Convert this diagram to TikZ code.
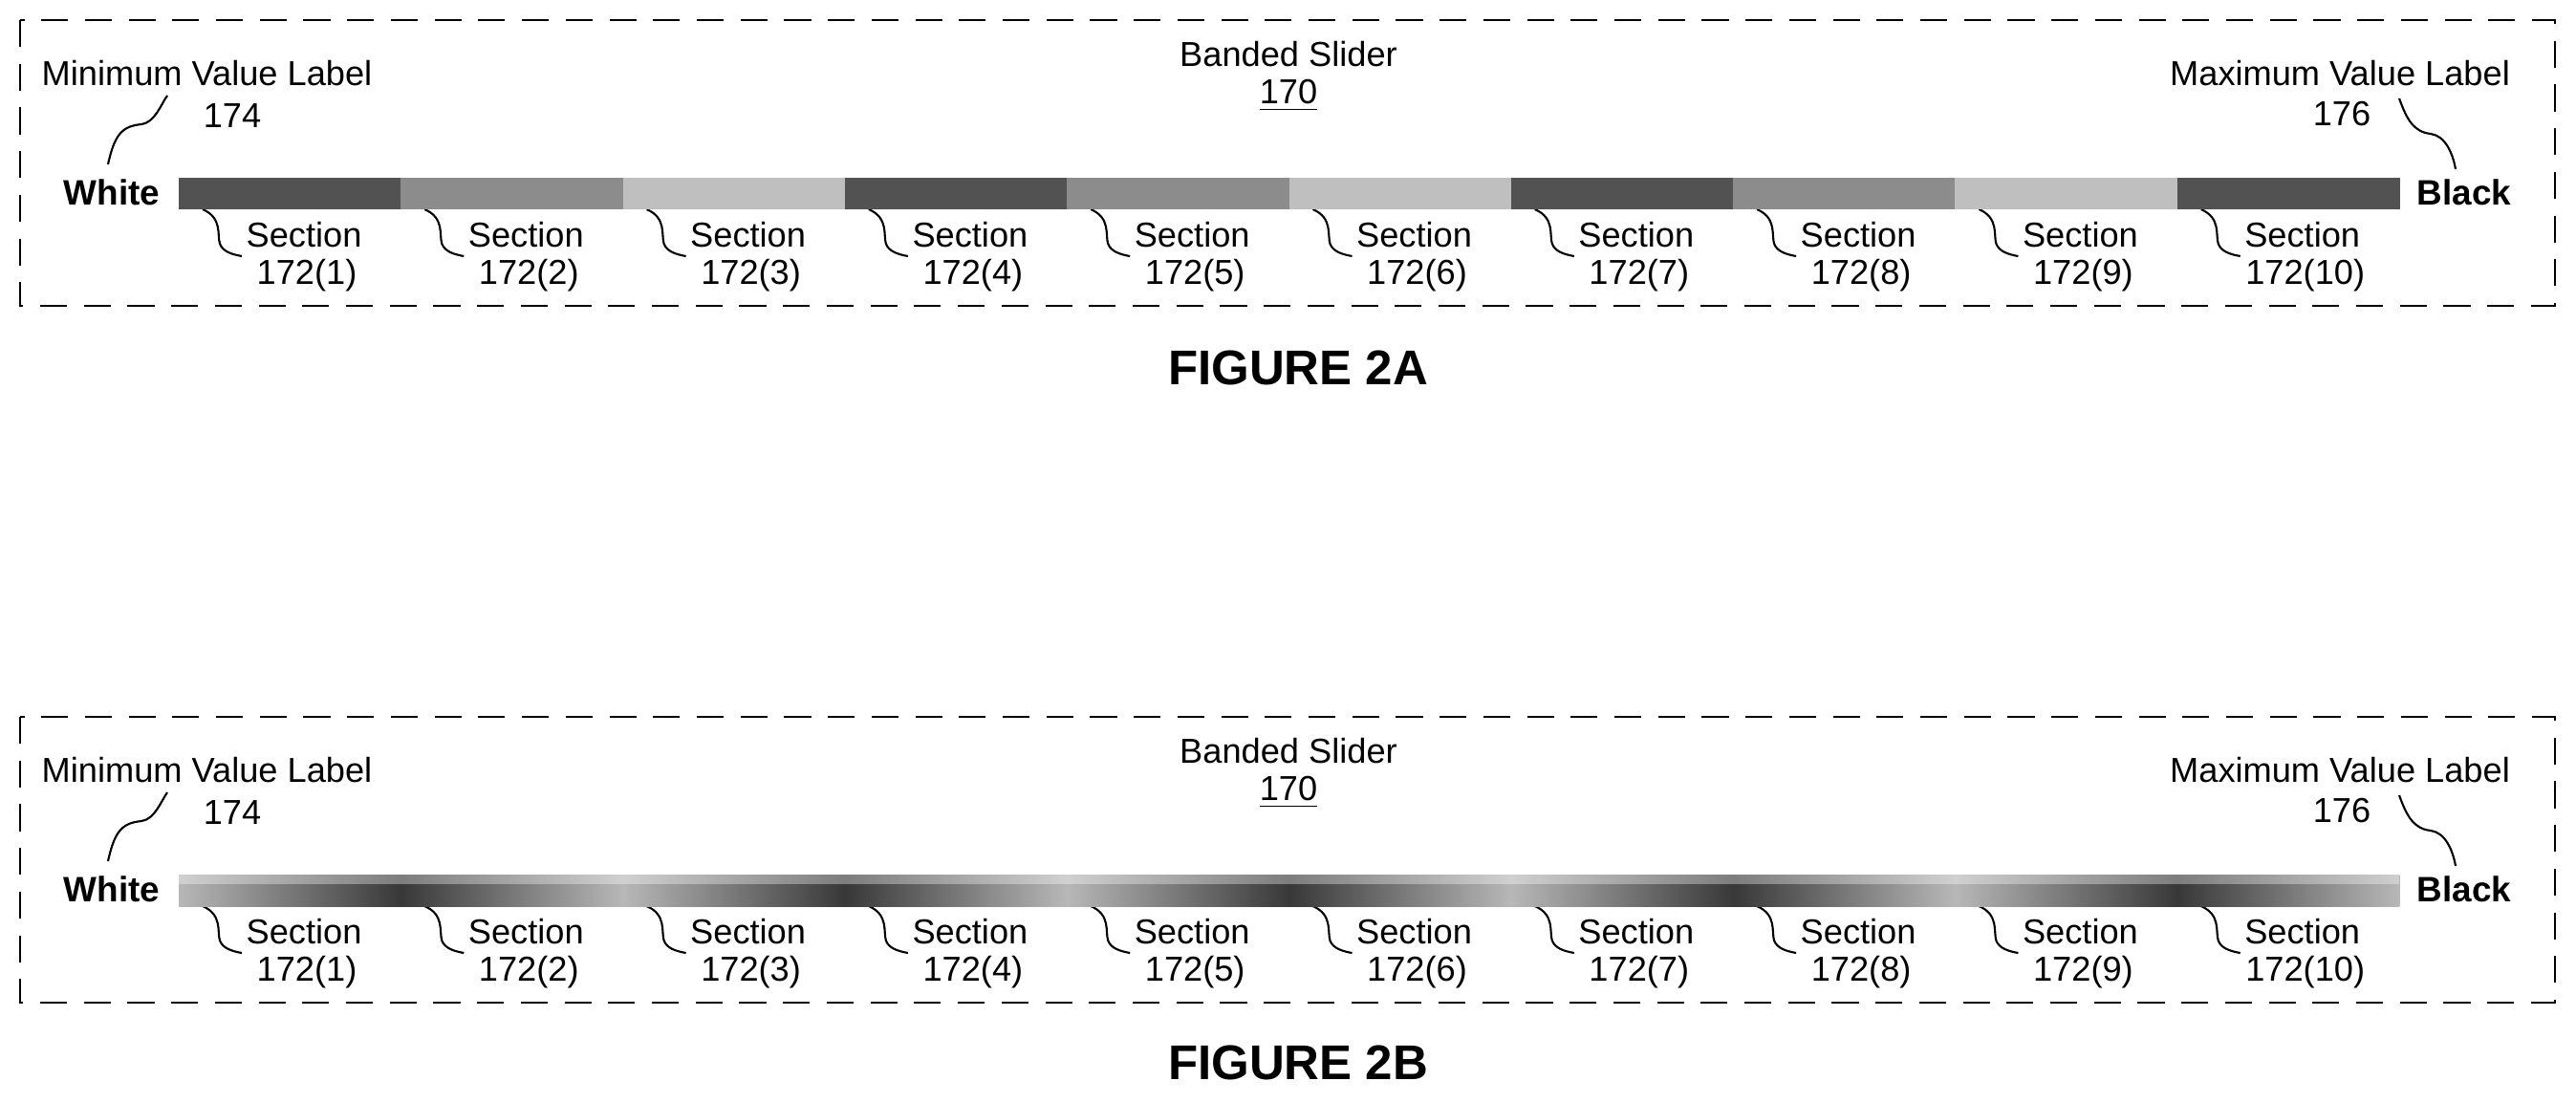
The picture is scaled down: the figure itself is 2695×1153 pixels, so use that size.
\documentclass[tikz,border=0pt]{standalone}
\usepackage{fontspec}
\setmainfont{Liberation Sans}
\usetikzlibrary{calc}
\pgfdeclarehorizontalshading{bandshade}{100bp}{color(0bp)=(black!25); color(25bp)=(black!28); color(50bp)=(black!78); color(75bp)=(black!28); color(100bp)=(black!25)}
\begin{document}
\begin{tikzpicture}[x=0.01cm,y=-0.01cm,
  txt/.style={font=\fontsize{10.3}{12}\selectfont, inner sep=0pt, align=center},
  bold/.style={font=\fontsize{10.5}{12}\selectfont\bfseries, inner sep=0pt},
  fig/.style={font=\fontsize{14.5}{16}\selectfont\bfseries, inner sep=0pt},
  frame/.style={draw, dashed, dash pattern=on 8pt off 5pt, line width=0.6pt},
  leader/.style={draw, line width=0.6pt}]
\useasboundingbox (0,0) rectangle (2695,1153);
\foreach \p/\dy in {A/0,B/729}{
  \begin{scope}[yshift=-\dy*0.01cm]
  \draw[frame] (21,21) rectangle (2673,320);
  \node[txt] (bs\p) at (1348,57) {Banded Slider};
  \node[txt] (n170\p) at (1348,100) {\underline{170}};
  \node[txt, anchor=west] (minl\p) at (43,77) {Minimum Value Label};
  \node[txt] (n174\p) at (243,121) {174};
  \node[txt] (maxl\p) at (2448,77) {Maximum Value Label};
  \node[txt] (n176\p) at (2450,119) {176};
  \node[bold] (white\p) at (117,201) {White};
  \node[bold] (black\p) at (2578,201) {Black};
  \coordinate (l1a\p) at (113,172);
  \coordinate (l1b\p) at (175,100);
  \draw[leader] (l1a\p) .. controls (120,140) and (128,132) .. (148,130) .. controls (162,128) and (168,110) .. (l1b\p);
  \coordinate (r1a\p) at (2510,103);
  \coordinate (r1b\p) at (2569,177);
  \draw[leader] (r1a\p) .. controls (2518,125) and (2525,138) .. (2543,140) .. controls (2558,142) and (2566,160) .. (r1b\p);
  \foreach \i in {1,...,10}{
    \pgfmathsetmacro{\s}{187+(\i-1)*232.3}
    \node[txt] (sec\p\i) at (\s+131,246) {Section};
    \node[txt] (num\p\i) at (\s+134,288) {172(\i)};
    \coordinate (la\p\i) at (\s+25,219);
    \coordinate (lb\p\i) at (\s+66,268);
    \draw[leader] (la\p\i) .. controls (\s+46,228) and (\s+40,246) .. (\s+43,255) .. controls (\s+46,263) and (\s+55,266) .. (lb\p\i);
  }
  \end{scope}
}
% Figure 2A bar
\foreach \i in {1,...,10}{
  \pgfmathsetmacro{\s}{187+(\i-1)*232.3}
  \pgfmathtruncatemacro{\m}{mod(\i-1,3)}
  \ifcase\m \def\col{black!68}\or \def\col{black!45}\or \def\col{black!25}\fi
  \fill[\col] (\s,186) rectangle (\s+232.8,219);
}
% Figure 2B bar
\foreach \k in {0,...,4}{
  \pgfmathsetmacro{\s}{187+\k*464.6}
  \shade[shading=bandshade] (\s,915) rectangle (\s+465,948);
}
\fill[white, opacity=0.35] (187,915) rectangle (2510,925);
\node[fig] (fig2a) at (1358,385) {FIGURE 2A};
\node[fig] (fig2b) at (1358,1112) {FIGURE 2B};
\end{tikzpicture}
\end{document}
